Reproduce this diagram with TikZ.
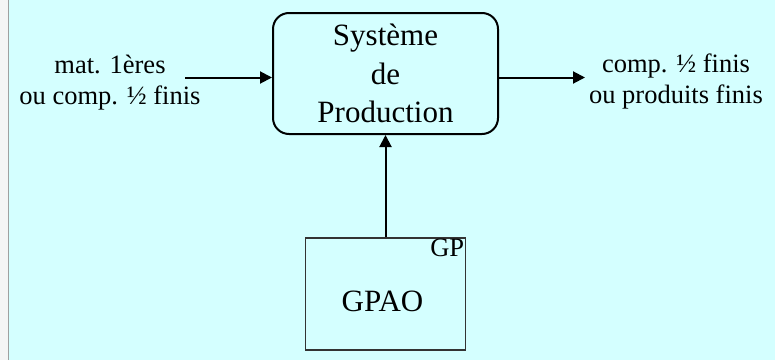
\documentclass[tikz,border=0pt]{standalone}
\usepackage{fontspec}
\setmainfont{Liberation Serif}
\usetikzlibrary{positioning,arrows.meta,calc}
\definecolor{bgcyan}{RGB}{212,255,255}
\definecolor{framegray}{RGB}{160,160,160}

\begin{document}
\begin{tikzpicture}[x=1pt, y=1pt, >={Triangle[length=12pt,width=12pt]},
    every node/.style={align=center, text=black}]
  \def\boxfont{\fontsize{31}{38.5}\selectfont}
  \def\labfont{\fontsize{26.5}{31}\selectfont}

  % page and window frame
  \useasboundingbox (0,0) rectangle (775,360);
  \fill[bgcyan] (0,0) rectangle (775,360);
  \fill[gray!8] (0,0) rectangle (8,360);
  \draw[framegray, line width=1.2pt] (8.6,0) -- (8.6,360);

  \node[draw, rounded corners=16pt, line width=2pt,
        minimum width=225pt, minimum height=121pt, font=\boxfont] (prod)
      at (385.5,286.5) {Système\\de\\Production};

  \node[draw=black!80, line width=1.7pt,
        minimum width=160pt, minimum height=112pt] (gpao)
      at (385.5,66) {};
  \node[font=\boxfont] (gpaolbl) at ($(gpao)+(-3,-7.7)$) {GPAO};
  \node[font=\labfont, anchor=north east, inner sep=2pt] (gptag)
      at (gpao.north east) {GP};

  \node[font=\labfont] (rawin) at (110,277.5) {mat. 1ères\\ou comp. ½ finis};
  \node[font=\labfont] (prodout) at (676,279) {comp. ½ finis\\ou produits finis};

  \coordinate (inS) at (185,282.5);
  \coordinate (outE) at (585,282.5);

  \draw[->, line width=2pt] (inS) -- (inS -| prod.west);
  \draw[->, line width=2pt] (prod.east |- outE) -- (outE);
  \draw[->, line width=2pt] (gpao) -- (prod);
\end{tikzpicture}
\end{document}
